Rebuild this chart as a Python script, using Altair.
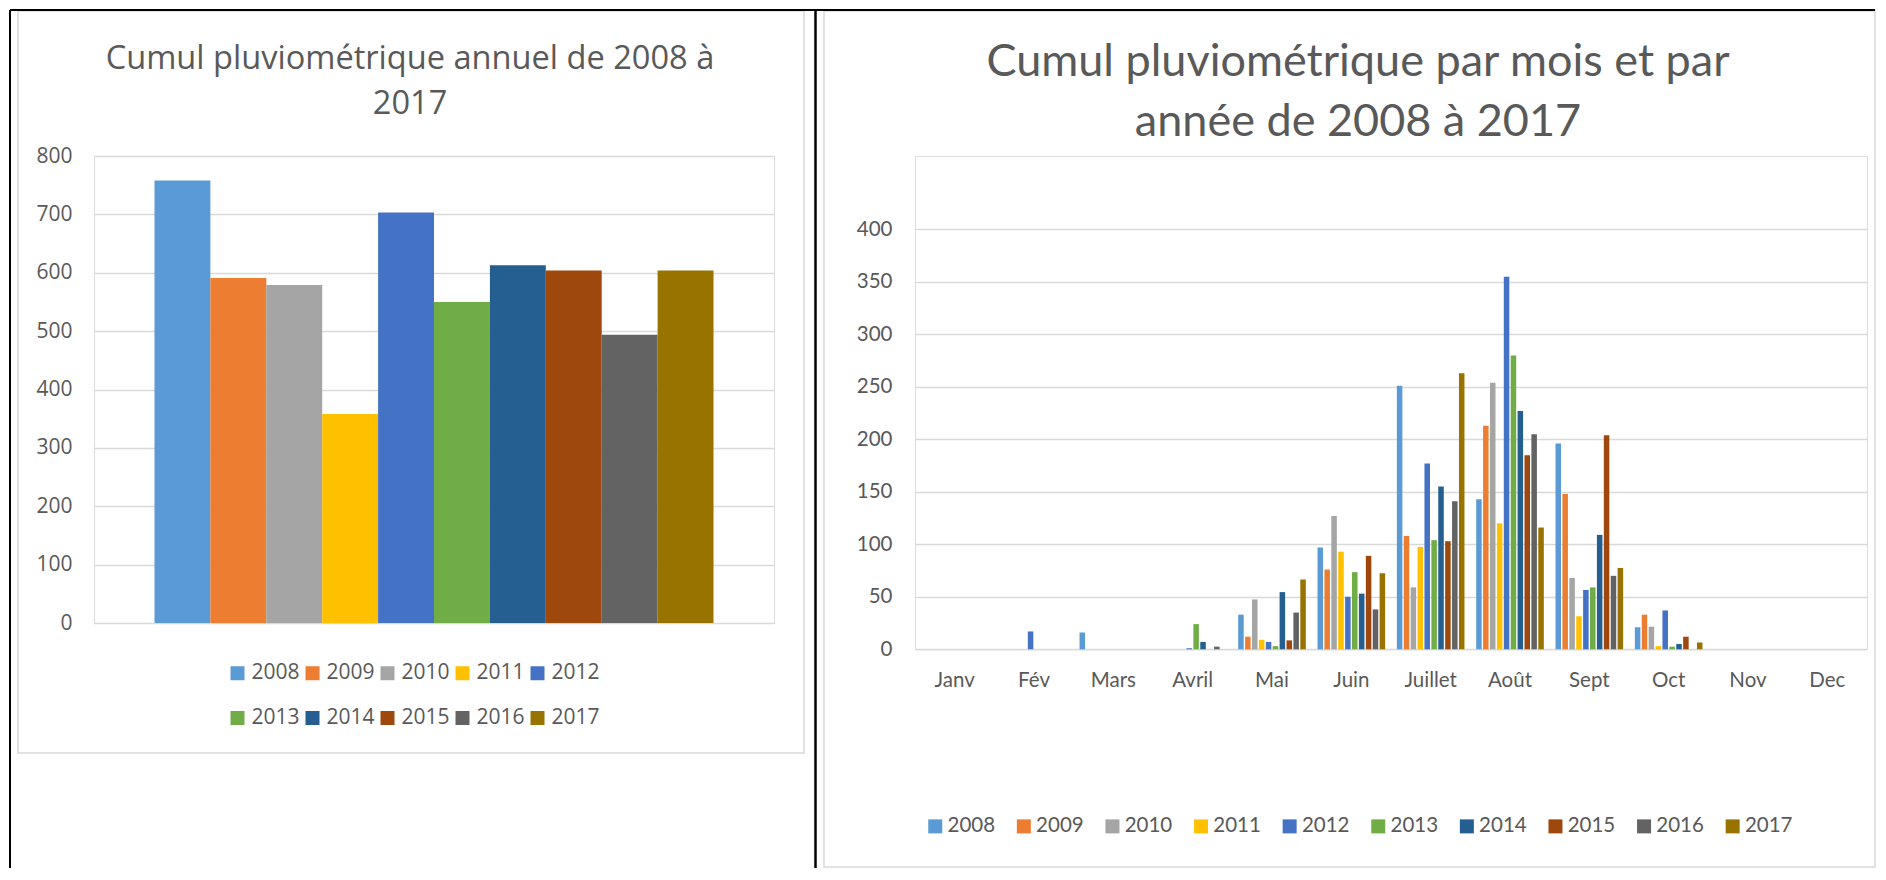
import altair as alt
import pandas as pd

years = ["2008", "2009", "2010", "2011", "2012", "2013", "2014", "2015", "2016", "2017"]
annual_totals = [758, 591, 579, 358, 703, 550, 613, 604, 494, 604]
months = ["Janv", "Fév", "Mars", "Avril", "Mai", "Juin", "Juillet", "Août", "Sept", "Oct", "Nov", "Dec"]

rain_2008 = [0, 0, 16, 0, 33, 97, 251, 143, 196, 21, 0, 0]
rain_2009 = [0, 0, 0, 0, 12, 76, 108, 213, 148, 33, 0, 0]
rain_2010 = [0, 0, 0, 0, 47.5, 127, 59, 254, 68, 21.5, 0, 0]
rain_2011 = [0, 0, 0, 0, 9, 93, 97.5, 120, 31.5, 3, 0, 0]
rain_2012 = [0, 17, 0, 1, 7, 50, 177, 355, 56.5, 37, 0, 0]
rain_2013 = [0, 0, 0, 24, 3, 73.5, 104, 280, 59, 2.5, 0, 0]
rain_2014 = [0, 0, 0, 7, 54.5, 53, 155, 227, 109, 5, 0, 0]
rain_2015 = [0, 0, 0, 0, 8.5, 89, 103, 185, 204, 12, 0, 0]
rain_2016 = [0, 0, 0, 2.5, 35, 38, 141, 205, 70, 0, 0, 0]
rain_2017 = [0, 0, 0, 0, 66.5, 72.5, 263, 116, 77.5, 6.5, 0, 0]

colors = ["#5B9BD5", "#ED7D31", "#A5A5A5", "#FFC000", "#4472C4",
          "#70AD47", "#255E91", "#9E480E", "#636363", "#997300"]

title_left = ["Cumul pluviométrique annuel de 2008 à", "2017"]
title_right = ["Cumul pluviométrique par mois et par", "année de 2008 à 2017"]

TEXT = "#595959"
GRID = "#D9D9D9"

annual_df = pd.DataFrame({"grp": [""] * len(years), "year": years, "total": annual_totals})
monthly = [rain_2008, rain_2009, rain_2010, rain_2011, rain_2012,
           rain_2013, rain_2014, rain_2015, rain_2016, rain_2017]
rows = []
for yr, vals in zip(years, monthly):
    for m, v in zip(months, vals):
        rows.append({"year": yr, "month": m, "rain": v})
monthly_df = pd.DataFrame(rows)

deco_df = pd.DataFrame({"k": [0]})


def line(x, x2, y, y2, color, w):
    return alt.Chart(deco_df).mark_rule(color=color, strokeWidth=w).encode(
        x=alt.value(x), x2=alt.value(x2), y=alt.value(y), y2=alt.value(y2))


def frame(x, x2, y, y2):
    return alt.Chart(deco_df).mark_rect(filled=False, stroke=GRID, strokeWidth=1.5).encode(
        x=alt.value(x), x2=alt.value(x2), y=alt.value(y), y2=alt.value(y2))


decos = [
    frame(-76, 710, -145, 597),
    frame(730, 1781, -145, 711),
    line(-84, 1781, -146, -146, "black", 2),
    line(-84, -84, -146, 712, "black", 2),
    line(721.5, 721.5, -146, 712, "black", 2.5),
]

left_bars = alt.Chart(annual_df).mark_bar().encode(
    x=alt.X("grp:N", axis=None, scale=alt.Scale(paddingInner=0, paddingOuter=0.1082)),
    xOffset=alt.XOffset("year:N", sort=years, scale=alt.Scale(paddingInner=0, paddingOuter=0)),
    y=alt.Y("total:Q", scale=alt.Scale(domain=[0, 800], nice=False),
            axis=alt.Axis(values=list(range(0, 801, 100)), title=None, domain=False,
                          ticks=False, tickSize=0, labelFont="Open Sans", labelFontSize=21,
                          labelColor=TEXT, labelPadding=22, gridColor=GRID, gridWidth=1.3)),
    color=alt.Color("year:N", sort=years, scale=alt.Scale(domain=years, range=colors),
                    legend=alt.Legend(orient="none", legendX=133, legendY=506.5, columns=5,
                                      direction="horizontal",
                                      title=None, symbolType="square", symbolSize=196,
                                      symbolStrokeWidth=0, labelFont="Open Sans",
                                      labelFontSize=21, labelColor=TEXT, labelOffset=3.5,
                                      columnPadding=2, rowPadding=23, padding=0)),
)

left = alt.layer(*decos, left_bars).properties(
    width=680, height=467,
    title=alt.TitleParams(text=title_left, font="Open Sans", fontSize=32.6, fontWeight="normal",
                          color=TEXT, lineHeight=45, baseline="alphabetic", frame="group",
                          anchor="middle", dx=-24, offset=-137.6),
)

right = alt.Chart(monthly_df).mark_bar().encode(
    x=alt.X("month:N", sort=months, scale=alt.Scale(paddingInner=0.1475, paddingOuter=0.074),
            axis=alt.Axis(title=None, labelAngle=0, domain=False, ticks=False, tickSize=0,
                          labelFont="Lato", labelFontSize=20.5, labelColor=TEXT,
                          labelPadding=21.5, grid=False)),
    xOffset=alt.XOffset("year:N", sort=years, scale=alt.Scale(paddingInner=0.2, paddingOuter=0)),
    y=alt.Y("rain:Q", scale=alt.Scale(domain=[0, 470], nice=False),
            axis=alt.Axis(values=list(range(0, 401, 50)), title=None, domain=False,
                          ticks=False, tickSize=0, labelFont="Lato", labelFontSize=20.5,
                          labelColor=TEXT, labelPadding=23, gridColor=GRID, gridWidth=1.3)),
    color=alt.Color("year:N", sort=years, scale=alt.Scale(domain=years, range=colors),
                    legend=alt.Legend(orient="none", legendX=10, legendY=660, columns=10,
                                      direction="horizontal",
                                      title=None, symbolType="square", symbolSize=196,
                                      symbolStrokeWidth=0, labelFont="Lato",
                                      labelFontSize=20.5, labelColor=TEXT, labelOffset=2,
                                      columnPadding=17.6, padding=0)),
).properties(
    width=952, height=493.3,
    title=alt.TitleParams(text=title_right, font="Lato", fontSize=45, fontWeight="normal",
                          color=TEXT, lineHeight=60, baseline="alphabetic",
                          anchor="middle", dx=-33, offset=-24.6),
)

chart = alt.hconcat(left, right, spacing=141, bounds="flush").resolve_scale(
    color="independent", x="independent", xOffset="independent", y="independent"
).resolve_legend(color="independent").properties(
    padding=0, background="white"
).configure_view(stroke="transparent", strokeWidth=0).configure(font="Lato")

chart.save("out.html", embed_options={"renderer": "svg", "actions": False})
